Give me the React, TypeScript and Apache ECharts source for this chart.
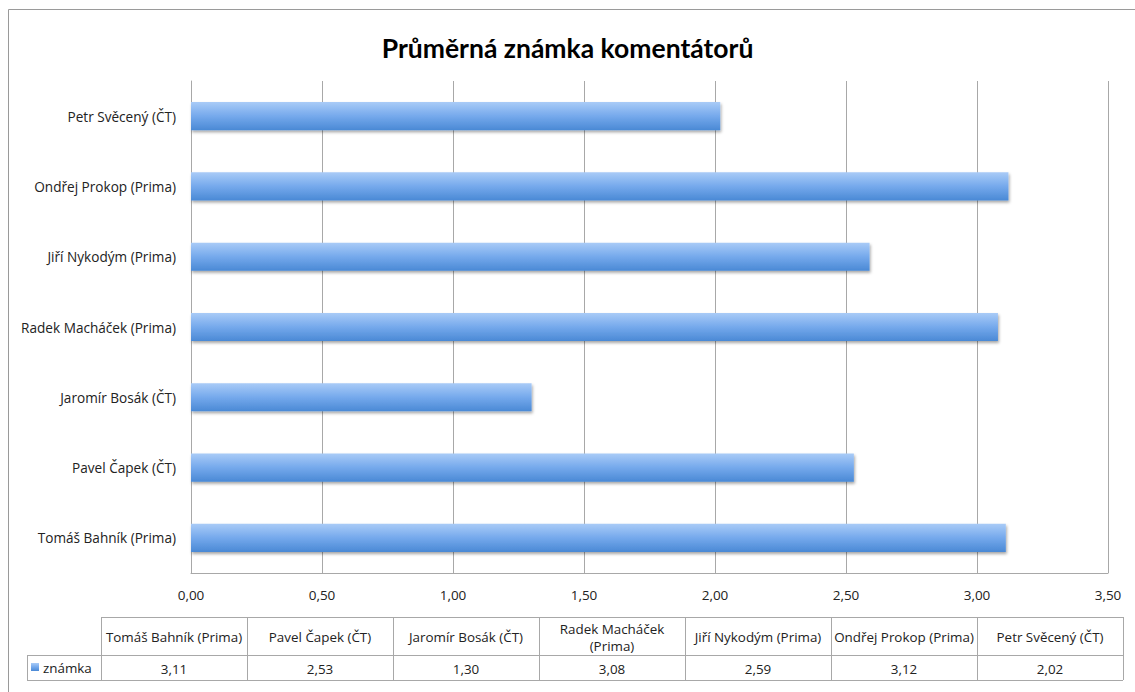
import React, { useEffect, useRef } from "react";
import * as echarts from "echarts";

const title = "Průměrná známka komentátorů";
const seriesName = "známka";
const categories = [
  "Tomáš Bahník (Prima)",
  "Pavel Čapek (ČT)",
  "Jaromír Bosák (ČT)",
  "Radek Macháček (Prima)",
  "Jiří Nykodým (Prima)",
  "Ondřej Prokop (Prima)",
  "Petr Svěcený (ČT)",
];
const tableHeaders = [
  "Tomáš Bahník (Prima)",
  "Pavel Čapek (ČT)",
  "Jaromír Bosák (ČT)",
  "Radek Macháček\n(Prima)",
  "Jiří Nykodým (Prima)",
  "Ondřej Prokop (Prima)",
  "Petr Svěcený (ČT)",
];
const values = [3.11, 2.53, 1.3, 3.08, 2.59, 3.12, 2.02];

const FONT = "'Open Sans', Lato, sans-serif";
const TITLE_FONT = "Lato, 'Open Sans', sans-serif";
const fmt = (v: number) => v.toFixed(2).replace(".", ",");

const barGradient = () =>
  new echarts.graphic.LinearGradient(0, 0, 0, 1, [
    { offset: 0, color: "#a9cbf7" },
    { offset: 0.5, color: "#75a9ec" },
    { offset: 1, color: "#4a89d5" },
  ]);

export default function App() {
  const ref = useRef<HTMLDivElement>(null);
  useEffect(() => {
    document.body.style.margin = "0";
    const chart = echarts.init(ref.current!, null, { renderer: "svg" });

    const lineColor = "#a8a8a8";
    const tX0 = 101;
    const colW = 146;
    const legX0 = 27;
    const yTop = 617;
    const yMid = 655;
    const yBot = 680;
    const n = categories.length;
    const tX1 = tX0 + colW * n;
    const tFont = `13.4px ${FONT}`;

    const graphic: any[] = [
      {
        type: "rect",
        shape: { x: 8.5, y: 9.5, width: 1140, height: 700 },
        style: { fill: "none", stroke: "#9a9a9a", lineWidth: 1 },
        silent: true,
      },
      { type: "line", shape: { x1: tX0, y1: yTop + 0.5, x2: tX1, y2: yTop + 0.5 }, style: { stroke: lineColor, lineWidth: 1 } },
      { type: "line", shape: { x1: legX0, y1: yMid + 0.5, x2: tX1, y2: yMid + 0.5 }, style: { stroke: lineColor, lineWidth: 1 } },
      { type: "line", shape: { x1: legX0, y1: yBot + 0.5, x2: tX1, y2: yBot + 0.5 }, style: { stroke: lineColor, lineWidth: 1 } },
      { type: "line", shape: { x1: legX0 + 0.5, y1: yMid, x2: legX0 + 0.5, y2: yBot }, style: { stroke: lineColor, lineWidth: 1 } },
      {
        type: "rect",
        shape: { x: 31, y: 663, width: 8, height: 8 },
        style: { fill: barGradient() },
      },
      {
        type: "text",
        x: 43,
        y: 668,
        style: { text: seriesName, font: tFont, fill: "#222", verticalAlign: "middle" },
      },
    ];
    for (let i = 0; i <= n; i++) {
      const x = Math.round(tX0 + colW * i) + 0.5;
      graphic.push({
        type: "line",
        shape: { x1: x, y1: yTop, x2: x, y2: yBot },
        style: { stroke: lineColor, lineWidth: 1 },
      });
    }
    for (let i = 0; i < n; i++) {
      const cx = tX0 + colW * i + colW / 2;
      graphic.push({
        type: "text",
        x: cx,
        y: (yTop + yMid) / 2 + 1,
        style: {
          text: tableHeaders[i],
          font: tFont,
          fill: "#222",
          align: "center",
          verticalAlign: "middle",
          lineHeight: 17,
        },
      });
      graphic.push({
        type: "text",
        x: cx,
        y: (yMid + yBot) / 2 + 1,
        style: {
          text: fmt(values[i]),
          font: tFont,
          fill: "#222",
          align: "center",
          verticalAlign: "middle",
        },
      });
    }

    chart.setOption({
      animation: false,
      backgroundColor: "#fff",
      title: {
        text: title,
        left: "center",
        top: 29,
        textStyle: { fontFamily: TITLE_FONT, fontWeight: "bold", fontSize: 26.5, color: "#000" },
      },
      grid: { left: 191, right: 27, top: 81, bottom: 119, containLabel: false },
      xAxis: {
        type: "value",
        min: 0,
        max: 3.5,
        interval: 0.5,
        axisLine: { show: true, lineStyle: { color: lineColor } },
        axisTick: { show: false },
        splitLine: { show: true, lineStyle: { color: lineColor, width: 1 } },
        axisLabel: {
          formatter: (v: number) => fmt(v),
          fontFamily: FONT,
          fontSize: 13.5,
          color: "#222",
          margin: 15,
        },
      },
      yAxis: {
        type: "category",
        data: categories,
        axisLine: { show: true, lineStyle: { color: lineColor } },
        axisTick: { show: false },
        splitLine: { show: false },
        axisLabel: { fontFamily: FONT, fontSize: 13.6, color: "#222", margin: 15 },
      },
      series: [
        {
          name: seriesName,
          type: "bar",
          data: values,
          barCategoryGap: "60%",
          itemStyle: {
            color: barGradient(),
            shadowColor: "rgba(0,0,0,0.35)",
            shadowBlur: 3,
            shadowOffsetY: 2,
            shadowOffsetX: 1,
          },
        },
      ],
      graphic,
    });
    return () => chart.dispose();
  }, []);
  return <div ref={ref} style={{ width: 1135, height: 692 }} />;
}
